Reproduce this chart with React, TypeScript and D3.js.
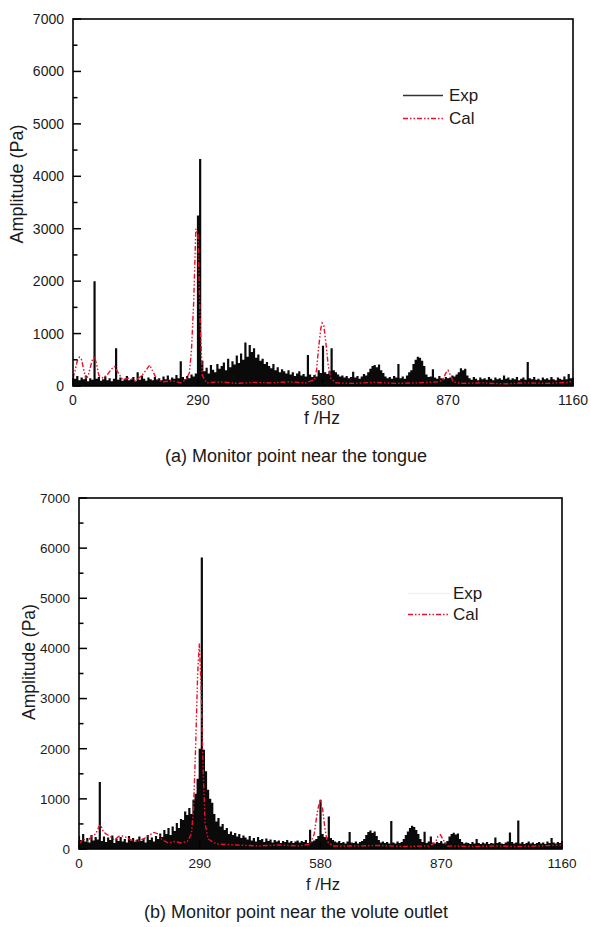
import React from "react";
import * as d3 from "d3";

// ---------- data ----------
const FREQ_STEP = 5; // Hz between experimental samples (0..1160)
const xTickValues = [0, 290, 580, 870, 1160];
const yTickValues = [0, 1000, 2000, 3000, 4000, 5000, 6000, 7000];
const yMinorValues = [500, 1500, 2500, 3500, 4500, 5500, 6500];
const seriesNames = ["Exp", "Cal"];
const captions = ["(a) Monitor point near the tongue", "(b) Monitor point near the volute outlet"];

// (a) experimental amplitude, every 5 Hz
const expA = [
  220, 140, 190, 110, 160, 130, 200, 90, 150, 120, 2000, 140, 170, 100, 130, 180, 110, 150, 90, 140,
  720, 120, 160, 100, 140, 190, 110, 130, 170, 90, 260, 120, 200, 140, 100, 160, 130, 110, 170, 120,
  150, 110, 180, 130, 200, 120, 160, 140, 210, 150, 470, 170, 130, 190, 150, 220, 180, 240, 3250, 4330,
  480, 280, 350, 240, 400, 310, 260, 420, 330, 380, 450, 300, 520, 360, 470, 410, 580, 440, 620, 500,
  830, 560, 780, 650, 720, 540, 600, 480, 520, 420, 460, 380, 340, 420, 300, 360, 260, 320, 280, 240,
  300, 220, 260, 190, 240, 280, 200, 230, 180, 590, 220, 170, 210, 180, 300, 250, 770, 260, 230, 280,
  720, 300, 260, 220, 180, 200, 160, 190, 150, 170, 270, 160, 190, 140, 180, 230, 200, 260, 330, 380,
  400, 360, 410, 300, 250, 180, 150, 170, 140, 190, 160, 420, 150, 180, 140, 200, 260, 300, 420, 500,
  560, 540, 480, 380, 220, 170, 180, 320, 160, 140, 190, 150, 130, 170, 140, 160, 200, 180, 220, 260,
  340, 300, 330, 200, 150, 120, 170, 140, 110, 160, 130, 150, 120, 170, 140, 110, 160, 130, 150, 120,
  200, 140, 160, 120, 150, 130, 170, 110, 140, 160, 120, 460, 150, 130, 170, 120, 140, 110, 160, 130,
  150, 120, 170, 130, 110, 160, 140, 120, 180, 130, 230, 150, 160,
];

// (a) calculated amplitude
const calAFreq = [0, 5, 10, 15, 20, 25, 30, 35, 40, 45, 50, 55, 60, 70, 80, 90, 97, 105, 115, 130, 145, 160, 172, 178, 185, 195, 210, 230, 250, 262, 270, 275, 280, 285, 290, 295, 300, 310, 340, 380, 420, 460, 500, 540, 560, 565, 570, 575, 578, 582, 587, 592, 598, 610, 650, 700, 750, 800, 850, 860, 865, 870, 876, 882, 900, 950, 1000, 1050, 1100, 1150, 1160];
const calAVal = [150, 300, 480, 550, 500, 300, 150, 180, 350, 500, 560, 400, 200, 150, 220, 330, 370, 250, 120, 150, 100, 200, 330, 400, 280, 120, 80, 100, 60, 120, 250, 700, 1600, 3000, 2900, 1200, 200, 60, 80, 50, 70, 60, 80, 60, 120, 300, 750, 1100, 1200, 1150, 800, 400, 150, 60, 50, 70, 50, 60, 80, 150, 250, 300, 200, 80, 50, 60, 40, 60, 50, 70, 100];

// (b) experimental amplitude, every 5 Hz
const expB = [
  260, 180, 300, 150, 220, 130, 280, 170, 240, 190, 1335, 160, 250, 140, 230, 180, 270, 120, 210, 160,
  240, 150, 200, 130, 260, 170, 220, 140, 190, 250, 160, 210, 130, 280, 180, 230, 150, 260, 200, 310,
  240, 380, 300, 420, 280, 450, 360, 520, 420, 600, 580, 750, 680, 820, 700, 980, 1100, 1400, 2000, 5815,
  1980, 1550, 1180, 1000, 920, 700, 550, 620, 450, 500, 380, 420, 300, 350, 280, 320, 250, 300, 220, 270,
  230, 190, 260, 170, 220, 150, 240, 180, 200, 140, 210, 160, 190, 130, 180, 150, 170, 120, 160, 140,
  180, 130, 160, 120, 150, 170, 130, 160, 140, 180, 120, 385, 150, 170, 200, 260, 980, 300, 240, 230,
  650, 220, 180, 150, 130, 160, 120, 140, 110, 150, 340, 130, 120, 150, 110, 140, 160, 200, 280, 340,
  370, 320, 350, 260, 180, 130, 150, 120, 140, 110, 560, 130, 110, 150, 120, 140, 200, 280, 350, 420,
  465, 440, 380, 300, 200, 140, 345, 120, 150, 250, 130, 110, 140, 120, 150, 110, 130, 160, 250, 300,
  325, 290, 310, 200, 140, 110, 130, 120, 100, 140, 110, 200, 120, 100, 130, 110, 140, 100, 120, 110,
  230, 120, 140, 110, 100, 130, 150, 330, 140, 110, 130, 570, 110, 140, 100, 120, 150, 110, 130, 100,
  120, 140, 110, 130, 100, 150, 120, 220, 130, 110, 140, 120, 150,
];

// (b) calculated amplitude
const calBFreq = [0, 10, 20, 30, 40, 48, 52, 58, 65, 75, 85, 95, 105, 115, 125, 140, 155, 170, 180, 190, 200, 215, 230, 245, 260, 270, 275, 280, 285, 289, 293, 298, 303, 310, 330, 380, 430, 480, 530, 555, 565, 570, 575, 580, 585, 590, 596, 610, 660, 720, 780, 840, 855, 862, 868, 875, 885, 950, 1000, 1050, 1100, 1160];
const calBVal = [100, 200, 150, 250, 300, 450, 480, 350, 300, 250, 180, 250, 260, 230, 180, 150, 200, 280, 330, 300, 180, 120, 150, 120, 150, 300, 800, 2000, 3500, 4100, 3300, 1600, 500, 200, 100, 80, 60, 80, 60, 100, 300, 600, 850, 950, 800, 450, 150, 60, 60, 70, 50, 60, 120, 250, 285, 180, 60, 50, 60, 50, 60, 80];

// ---------- component ----------
type PanelProps = {
  left: number; right: number; top: number; bottom: number;
  exp: number[]; calF: number[]; calV: number[];
  tickFont: number; ylabelX: number; ylabelY: number; ylabelFont: number;
  xLabelY: number; fLabelX: number; fLabelY: number; fLabelFont: number;
  caption: string; captionY: number;
  legX: number; legExpY: number; legCalY: number; legLineFrom: number; legLineTo: number;
  legExpColor: string;
};

function Panel(p: PanelProps) {
  const x = d3.scaleLinear().domain([0, 1160]).range([p.left, p.right]);
  const y = d3.scaleLinear().domain([0, 7000]).range([p.bottom, p.top]);
  const clipId = `clip-${p.top}`;

  const stemPath = d3.path();
  p.exp.forEach((v, i) => {
    const fx = x(i * FREQ_STEP);
    stemPath.moveTo(fx, y(0));
    stemPath.lineTo(fx, y(v));
  });

  const calLine = d3
    .line<number>()
    .x((_, i) => x(p.calF[i]))
    .y((v) => y(v));

  const font = "'Liberation Sans', Arial, sans-serif";
  const txt = "#1a1a1a";

  return (
    <g fontFamily={font}>
      <defs>
        <clipPath id={clipId}>
          <rect x={p.left} y={p.top} width={p.right - p.left} height={p.bottom - p.top} />
        </clipPath>
      </defs>
      <g clipPath={`url(#${clipId})`}>
        <path d={stemPath.toString()} stroke="#0a0a0a" strokeWidth={2.2} fill="none" />
        <path
          d={calLine(p.calV) || ""}
          stroke="#e8102a"
          strokeWidth={1.4}
          fill="none"
          strokeDasharray="5,2,1.5,2,1.5,2"
        />
      </g>
      {/* frame */}
      <rect x={p.left} y={p.top} width={p.right - p.left} height={p.bottom - p.top} fill="none" stroke="#000" strokeWidth={1.6} />
      {/* y ticks */}
      {yTickValues.map((t) => (
        <g key={`y${t}`}>
          <line x1={p.left} x2={p.left + 8} y1={y(t)} y2={y(t)} stroke="#000" strokeWidth={1.5} />
          <text x={p.left - 9} y={y(t) + p.tickFont * 0.36} textAnchor="end" fontSize={p.tickFont} fill={txt}>
            {t}
          </text>
        </g>
      ))}
      {yMinorValues.map((t) => (
        <line key={`ym${t}`} x1={p.left} x2={p.left + 4.5} y1={y(t)} y2={y(t)} stroke="#000" strokeWidth={1.5} />
      ))}
      {/* x ticks */}
      {xTickValues.map((t) => (
        <g key={`x${t}`}>
          <line x1={x(t)} x2={x(t)} y1={p.bottom} y2={p.bottom - 8} stroke="#000" strokeWidth={1.5} />
          <text x={x(t)} y={p.xLabelY} textAnchor="middle" fontSize={p.tickFont} fill={txt}>
            {t}
          </text>
        </g>
      ))}
      <text x={p.fLabelX} y={p.fLabelY} textAnchor="middle" fontSize={p.fLabelFont} fill={txt}>
        f /Hz
      </text>
      <text
        transform={`translate(${p.ylabelX},${p.ylabelY}) rotate(-90)`}
        textAnchor="middle"
        fontSize={p.ylabelFont}
        fill={txt}
      >
        Amplitude (Pa)
      </text>
      {/* legend */}
      <line x1={p.legLineFrom} x2={p.legLineTo} y1={p.legExpY - 5.5} y2={p.legExpY - 5.5} stroke={p.legExpColor} strokeWidth={1.3} />
      <text x={p.legX} y={p.legExpY} fontSize={17} fill={txt}>
        {seriesNames[0]}
      </text>
      <line
        x1={p.legLineFrom}
        x2={p.legLineTo}
        y1={p.legCalY - 5.5}
        y2={p.legCalY - 5.5}
        stroke="#e8102a"
        strokeWidth={1.4}
        strokeDasharray="5,2,1.5,2,1.5,2"
      />
      <text x={p.legX} y={p.legCalY} fontSize={17} fill={txt}>
        {seriesNames[1]}
      </text>
      <text x={296} y={p.captionY} textAnchor="middle" fontSize={18} fill={txt}>
        {p.caption}
      </text>
    </g>
  );
}

export default function App() {
  return (
    <div style={{ position: "absolute", left: 0, top: 0 }}>
      <svg width={591} height={927} viewBox="0 0 591 927" style={{ display: "block", background: "#fff" }}>
        <Panel
          left={73} right={573} top={19} bottom={386}
          exp={expA} calF={calAFreq} calV={calAVal}
          tickFont={14} ylabelX={23} ylabelY={184} ylabelFont={18}
          xLabelY={405} fLabelX={322} fLabelY={424} fLabelFont={17.5}
          caption={captions[0]} captionY={462}
          legX={449} legExpY={101} legCalY={124} legLineFrom={403} legLineTo={443}
          legExpColor="#333"
        />
        <Panel
          left={79} right={562} top={498} bottom={849}
          exp={expB} calF={calBFreq} calV={calBVal}
          tickFont={13.5} ylabelX={35} ylabelY={662} ylabelFont={17.5}
          xLabelY={868} fLabelX={323} fLabelY={890} fLabelFont={16.5}
          caption={captions[1]} captionY={918}
          legX={453} legExpY={599} legCalY={620} legLineFrom={408} legLineTo={450}
          legExpColor="#f2f2f2"
        />
      </svg>
    </div>
  );
}
